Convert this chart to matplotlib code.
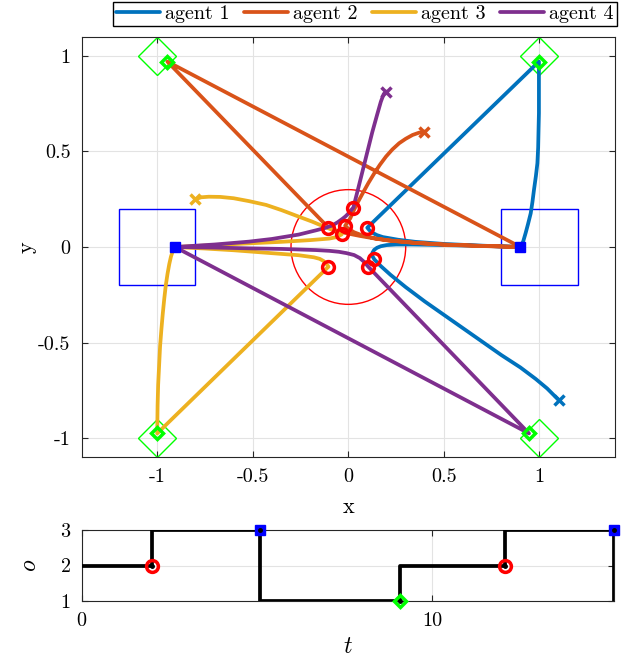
import matplotlib
matplotlib.use("Agg")
import matplotlib.pyplot as plt
from matplotlib.patches import Rectangle, Circle

plt.rcParams['font.family'] = ['cmr10', 'DejaVu Serif']
plt.rcParams['mathtext.fontset'] = 'cm'
plt.rcParams['axes.unicode_minus'] = False

# ---------------- data ----------------
agent_names = ['agent 1', 'agent 2', 'agent 3', 'agent 4']
agent_colors = ['#0072BD', '#D95319', '#EDB120', '#7E2F8E']

agent1_x = [1.1, 1.04, 0.98, 0.9, 0.8, 0.7, 0.6, 0.5, 0.4, 0.3, 0.22, 0.17, 0.136,
            0.126, 0.126, 0.135, 0.15, 0.17, 0.2, 0.25, 0.33, 0.4, 0.6, 0.8, 0.9,
            0.915, 0.928, 0.94, 0.954, 0.963, 0.971, 0.981, 0.989, 0.993, 0.995,
            0.997, 0.997, 0.997, 0.997,
            0.099,
            0.11, 0.125, 0.15, 0.18, 0.26, 0.35, 0.5, 0.65, 0.8, 0.9]
agent1_y = [-0.8, -0.74, -0.69, -0.63, -0.565, -0.495, -0.425, -0.355, -0.285, -0.21, -0.145, -0.1, -0.065,
            -0.048, -0.03, -0.015, -0.004, 0.004, 0.01, 0.013, 0.013, 0.012, 0.008, 0.003, 0.0,
            0.03, 0.075, 0.12, 0.176, 0.235, 0.298, 0.37, 0.438, 0.52, 0.613,
            0.7, 0.78, 0.87, 0.97,
            0.101,
            0.088, 0.075, 0.062, 0.052, 0.038, 0.027, 0.016, 0.009, 0.003, 0.0]

agent2_x = [0.397, 0.37, 0.336, 0.3, 0.266, 0.23, 0.197, 0.165, 0.136, 0.105, 0.075, 0.05, 0.03, 0.01, -0.017,
            0.0, 0.03, 0.07, 0.14, 0.21, 0.35, 0.5, 0.7, 0.9,
            -0.947,
            -0.104,
            -0.08, -0.06, -0.03, 0.0, 0.06, 0.14, 0.21, 0.35, 0.5, 0.7, 0.9]
agent2_y = [0.604, 0.598, 0.586, 0.566, 0.543, 0.51, 0.473, 0.43, 0.386, 0.335, 0.281, 0.235, 0.195, 0.15, 0.111,
            0.095, 0.077, 0.062, 0.045, 0.035, 0.022, 0.013, 0.006, 0.0,
            0.97,
            0.101,
            0.092, 0.085, 0.077, 0.07, 0.058, 0.044, 0.034, 0.021, 0.012, 0.005, 0.0]

agent3_x = [-0.8, -0.77, -0.73, -0.67, -0.6, -0.52, -0.43, -0.35, -0.26, -0.19, -0.13, -0.08, -0.035,
            -0.06, -0.1, -0.2, -0.35, -0.52, -0.7, -0.907,
            -0.918, -0.928, -0.937, -0.946, -0.955, -0.963, -0.971, -0.978, -0.985, -0.99, -0.995, -0.998, -1.0,
            -0.104,
            -0.115, -0.13, -0.15, -0.18, -0.26, -0.43, -0.6, -0.75, -0.907]
agent3_y = [0.25, 0.26, 0.263, 0.262, 0.255, 0.24, 0.22, 0.193, 0.159, 0.133, 0.108, 0.088, 0.066,
            0.052, 0.044, 0.036, 0.027, 0.019, 0.01, 0.0,
            -0.02, -0.05, -0.09, -0.14, -0.2, -0.27, -0.35, -0.43, -0.52, -0.62, -0.72, -0.83, -0.975,
            -0.103,
            -0.088, -0.073, -0.062, -0.054, -0.043, -0.03, -0.017, -0.008, 0.0]

agent4_x = [0.197, 0.185, 0.17, 0.15, 0.125, 0.1, 0.075, 0.05, 0.026,
            0.012, 0.0, -0.015, -0.03, -0.055, -0.08, -0.12, -0.17, -0.26, -0.4, -0.52, -0.7, -0.907,
            0.945,
            0.104,
            0.085, 0.06, 0.03, -0.01, -0.05, -0.1, -0.17, -0.35, -0.52, -0.7, -0.907]
agent4_y = [0.813, 0.8, 0.76, 0.69, 0.6, 0.5, 0.4, 0.3, 0.206,
            0.19, 0.175, 0.16, 0.148, 0.13, 0.115, 0.1, 0.087, 0.065, 0.042, 0.028, 0.013, 0.0,
            -0.975,
            -0.103,
            -0.08, -0.058, -0.042, -0.032, -0.025, -0.02, -0.016, -0.01, -0.007, -0.003, 0.0]

# switching events seen on the trajectories
meet_x = [0.136, 0.099, -0.017, -0.104, -0.035, -0.104, 0.026, 0.104]
meet_y = [-0.065, 0.101, 0.111, 0.101, 0.066, -0.103, 0.206, -0.103]
box_hit_x = [0.9, -0.907]
box_hit_y = [0.0, 0.0]
goal_hit_x = [0.997, -0.947, -1.0, 0.945]
goal_hit_y = [0.97, 0.97, -0.975, -0.975]

# regions
goal_x = [1, -1, -1, 1]
goal_y = [1, 1, -1, -1]
box_cx = [-1.0, 1.0]
box_cy = [0.0, 0.0]
box_half = 0.2
meet_r = 0.3

# mode timeline
mode_t = [0, 2.0, 5.1, 9.1, 12.1, 15.2]
mode_o = [2, 3, 1, 2, 3, 1]
event_t = [2.0, 5.1, 9.1, 12.1, 15.2]
event_o = [2, 3, 1, 2, 3]
event_kind = ['circle', 'box', 'goal', 'circle', 'box']

xs = [agent1_x, agent2_x, agent3_x, agent4_x]
ys = [agent1_y, agent2_y, agent3_y, agent4_y]

# ---------------- figure ----------------
W, H = 638, 660
fig = plt.figure(figsize=(W / 100, H / 100), dpi=100)

def ax_rect(l, r, t, b):
    return [l / W, 1 - b / H, (r - l) / W, (b - t) / H]

FS = 14.5
LW = 2.7
gridc = '#e3e3e3'
spc = '#262626'
mk = {'circle': dict(marker='o', ms=8.5, mfc='none', mec='#FF0000', mew=2.5),
      'box': dict(marker='s', ms=7.5, mfc='#0000FF', mec='#0000FF', mew=1.0),
      'goal': dict(marker='D', ms=6, mfc='none', mec='#00FF00', mew=2.5)}

ax = fig.add_axes(ax_rect(81.7, 615, 36.7, 457.3))
ax.set_xlim(-1.395, 1.395)
ax.set_ylim(-1.1, 1.1)

# regions
for cx, cy in zip(box_cx, box_cy):
    ax.add_patch(Rectangle((cx - box_half, cy - box_half), 2 * box_half, 2 * box_half,
                           fill=False, ec='#0000FF', lw=1.0, zorder=2))
ax.add_patch(Circle((0, 0), meet_r, fill=False, ec='#FF0000', lw=1.0, zorder=2))
ax.plot(goal_x, goal_y, ls='none', marker='D', ms=19, mfc='none', mec='#00FF00', mew=1.0, zorder=2)

handles = []
for i in range(4):
    h, = ax.plot(xs[i], ys[i], color=agent_colors[i], lw=LW, zorder=3,
                 solid_capstyle='round', solid_joinstyle='round', label=agent_names[i])
    handles.append(h)
for i in range(4):
    ax.plot(xs[i][0], ys[i][0], ls='none', marker='x', ms=7.5, mew=2.5, color=agent_colors[i], zorder=5)
ax.plot(box_hit_x, box_hit_y, ls='none', zorder=6, **mk['box'])
ax.plot(goal_hit_x, goal_hit_y, ls='none', zorder=6, **mk['goal'])
ax.plot(meet_x, meet_y, ls='none', zorder=7, **mk['circle'])

ax.set_xticks([-1, -0.5, 0, 0.5, 1])
ax.set_xticklabels(['-1', '-0.5', '0', '0.5', '1'])
ax.set_yticks([-1, -0.5, 0, 0.5, 1])
ax.set_yticklabels(['-1', '-0.5', '0', '0.5', '1'])
ax.grid(True, color=gridc, lw=0.8, zorder=0)
ax.set_axisbelow(True)
ax.tick_params(direction='in', length=4, width=0.8, color=spc, labelsize=FS,
               top=True, right=True, pad=8)
for s in ax.spines.values():
    s.set_color(spc)
    s.set_linewidth(0.8)
ax.set_xlabel('x', fontsize=16, labelpad=8)
ax.set_ylabel('y', fontsize=16, labelpad=1)

leg = fig.legend(handles=handles, loc='upper right', bbox_to_anchor=(617 / W, 1 - 2 / H),
                 ncol=4, fontsize=FS, frameon=True, fancybox=False, edgecolor='black',
                 borderaxespad=0, handlelength=2.2, columnspacing=0.7, handletextpad=0.25,
                 borderpad=0.15, framealpha=1)
leg.get_frame().set_linewidth(1.0)

# ---------------- bottom ----------------
ax2 = fig.add_axes(ax_rect(81.7, 614, 530, 601))
ax2.set_xlim(0, 15.2)
ax2.set_ylim(1, 3)
ax2.plot(mode_t, mode_o, drawstyle='steps-post', color='black', lw=LW, zorder=3)
for t, o, k in zip(event_t, event_o, event_kind):
    ax2.plot(t, o, ls='none', zorder=5, clip_on=False, **mk[k])
    ax2.plot(t, o, ls='none', marker='o', ms=2.5, color='black', zorder=6, clip_on=False)
ax2.set_xticks([0, 10])
ax2.set_xticklabels(['0', '10'])
ax2.set_yticks([1, 2, 3])
ax2.set_yticklabels(['1', '2', '3'])
ax2.grid(True, color=gridc, lw=0.8, zorder=0)
ax2.set_axisbelow(True)
ax2.tick_params(direction='in', length=4, width=0.8, color=spc, labelsize=FS,
                top=True, right=True, pad=8)
for s in ax2.spines.values():
    s.set_color(spc)
    s.set_linewidth(0.8)
ax2.set_xlabel('$t$', fontsize=17, labelpad=4)
ax2.set_ylabel('$o$', fontsize=17, labelpad=14)

fig.savefig('out.png', dpi=100)
